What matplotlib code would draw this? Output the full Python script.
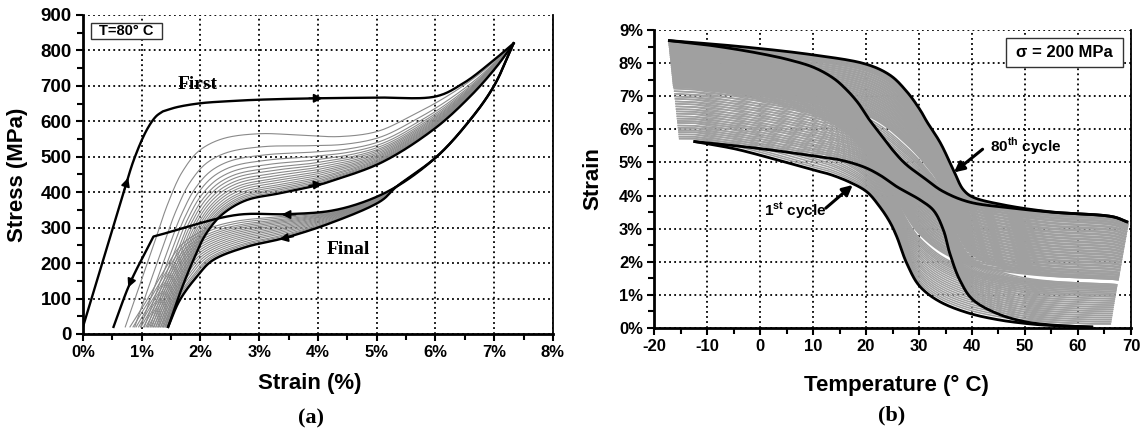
import numpy as np
import matplotlib
matplotlib.use('Agg')
import matplotlib.pyplot as plt
from matplotlib.patches import Rectangle
from matplotlib.ticker import MultipleLocator, FixedLocator

plt.rcParams['font.family'] = ['Liberation Sans', 'DejaVu Sans']
plt.rcParams['mathtext.fontset'] = 'custom'
plt.rcParams['mathtext.rm'] = 'Liberation Sans'
plt.rcParams['mathtext.bf'] = 'Liberation Sans:bold'
plt.rcParams['axes.unicode_minus'] = False

# ---------------- panel (a): stress-strain cycles at 80 C ----------------
first_load_strain = [0.0, 0.69, 0.885, 1.10, 1.25, 1.36, 1.60, 2.00, 2.50, 3.00, 4.00, 5.00, 6.00, 6.47, 6.93, 7.33]
first_load_stress = [20, 399, 500, 580, 615, 628, 640, 651, 657, 661, 665, 667, 670, 707, 764, 820]

first_unload_strain = [7.33, 6.99, 6.59, 6.02, 5.34, 4.77, 4.20, 3.47, 2.62, 1.20, 0.80, 0.52]
first_unload_stress = [820, 698, 604, 500, 416, 372, 347, 338, 336, 275, 143, 20]

final_load_strain = [1.45, 1.65, 1.88, 2.10, 2.39, 2.79, 3.35, 4.00, 4.20, 5.06, 5.96, 6.59, 7.04, 7.33]
final_load_stress = [20, 115, 209, 284, 340, 378, 397, 420, 430, 482, 576, 670, 754, 820]

final_unload_strain = [7.33, 6.99, 6.59, 6.02, 5.34, 5.06, 4.20, 3.41, 2.79, 2.22, 1.94, 1.65, 1.45]
final_unload_stress = [820, 698, 604, 500, 416, 374, 312, 270, 246, 209, 162, 96, 20]

# outermost grey loading / unloading cycles (2nd cycle)
grey_load_out_strain = [0.72, 0.95, 1.20, 1.45, 1.70, 2.00, 2.40, 3.00, 3.70, 4.37, 5.00, 5.62, 6.19, 6.76, 7.33]
grey_load_out_stress = [20, 130, 250, 370, 460, 520, 552, 565, 561, 557, 571, 618, 670, 735, 820]
grey_unload_out_strain = [7.33, 6.99, 6.59, 6.02, 5.34, 4.90, 4.20, 3.41, 2.60, 2.10, 1.70, 1.35, 1.05, 0.80]
grey_unload_out_stress = [820, 698, 604, 500, 416, 378, 345, 332, 318, 295, 255, 170, 85, 20]

# stress level of the grey curves read at ~3.4 % strain
grey_load_plateau = [565, 528, 505, 490, 478, 468, 460, 452, 445, 438, 432, 426, 420, 415, 410, 406, 402]
grey_unload_plateau = [332, 327, 322, 318, 314, 310, 306, 302, 298, 294, 290, 286, 282, 278, 275, 272]

strain_ticks = [0, 1, 2, 3, 4, 5, 6, 7, 8]
strain_ticklabels = ['0%', '1%', '2%', '3%', '4%', '5%', '6%', '7%', '8%']
stress_ticks = [0, 100, 200, 300, 400, 500, 600, 700, 800, 900]

# ---------------- panel (b): strain-temperature cycles at 200 MPa ----------------
c80_heat_T = [-17.1, -3.7, 10.0, 20.0, 24.5, 27.7, 30.2, 31.5, 34.0, 36.5, 38.4, 40.2, 45.9, 54.7, 66.6, 69.2]
c80_heat_s = [8.68, 8.50, 8.25, 7.97, 7.64, 7.14, 6.59, 6.23, 5.60, 4.77, 4.17, 3.95, 3.72, 3.51, 3.36, 3.21]
c80_cool_T = [-17.1, -10.0, -3.8, 1.3, 5.0, 10.0, 13.8, 16.3, 18.5, 20.5, 22.6, 25.0, 27.5, 30.8, 34.6, 39.6, 47.7, 55.0, 66.6, 69.2]
c80_cool_s = [8.68, 8.55, 8.40, 8.25, 8.12, 7.88, 7.55, 7.20, 6.80, 6.32, 5.88, 5.38, 4.95, 4.55, 4.12, 3.80, 3.62, 3.50, 3.36, 3.21]
c1_heat_T = [-12.3, 0.0, 10.0, 15.0, 19.5, 22.6, 25.8, 30.2, 32.7, 34.6, 35.8, 37.7, 40.2, 44.7, 50.0, 56.0, 62.6]
c1_heat_s = [5.63, 5.42, 5.20, 5.08, 4.87, 4.62, 4.27, 3.87, 3.56, 2.96, 2.26, 1.45, 0.85, 0.44, 0.19, 0.08, 0.03]
c1_cool_T = [-12.3, -5.0, 0.0, 5.0, 10.1, 13.2, 17.0, 20.1, 22.6, 24.5, 25.8, 27.7, 30.2, 34.0, 39.6, 45.3, 50.0, 53.5, 62.6]
c1_cool_s = [5.63, 5.42, 5.22, 5.00, 4.77, 4.64, 4.40, 4.12, 3.66, 3.20, 2.76, 1.95, 1.25, 0.79, 0.44, 0.24, 0.14, 0.09, 0.03]

# strain of the grey intermediate cycles at the cold end and at the hot end
grey_cold_strain = [5.72, 5.78, 5.85, 5.92, 5.98, 6.05, 6.12, 6.20, 6.26, 6.33, 6.40, 6.48, 6.55, 6.62,
                    6.70, 6.78, 6.85, 6.93, 7.00, 7.08, 7.16, 7.24, 7.30, 7.36, 7.42, 7.48, 7.54, 7.60,
                    7.66, 7.72, 7.78, 7.84, 7.90, 7.96, 8.02, 8.08, 8.14, 8.20, 8.26, 8.32, 8.38, 8.44,
                    8.50, 8.55, 8.60, 8.64]
grey_hot_strain = [0.12, 0.18, 0.24, 0.30, 0.36, 0.42, 0.48, 0.54, 0.60, 0.66, 0.72, 0.78, 0.84, 0.90,
                   0.95, 1.00, 1.05, 1.10, 1.14, 1.18, 1.22, 1.26, 1.42, 1.48, 1.55, 1.62, 1.70, 1.78,
                   1.86, 1.94, 2.02, 2.10, 2.18, 2.26, 2.34, 2.42, 2.50, 2.58, 2.66, 2.74, 2.82, 2.90,
                   2.98, 3.05, 3.12, 3.18]

temp_ticks = [-20, -10, 0, 10, 20, 30, 40, 50, 60, 70]
strainb_ticks = [0, 1, 2, 3, 4, 5, 6, 7, 8, 9]
strainb_ticklabels = ['0%', '1%', '2%', '3%', '4%', '5%', '6%', '7%', '8%', '9%']


# ---------------- helpers ----------------
def smooth(xs, ys, sx, sy, n=24):
    """Centripetal Catmull-Rom curve through the read points (for drawing only)."""
    P = np.column_stack([np.asarray(xs, float) / sx, np.asarray(ys, float) / sy])
    if len(P) < 3:
        return np.asarray(xs, float), np.asarray(ys, float)
    pts = np.vstack([2 * P[0] - P[1], P, 2 * P[-1] - P[-2]])
    out = [P[0]]
    for i in range(1, len(pts) - 2):
        p0, p1, p2, p3 = pts[i - 1], pts[i], pts[i + 1], pts[i + 2]
        t0 = 0.0
        t1 = t0 + max(np.linalg.norm(p1 - p0), 1e-9) ** 0.5
        t2 = t1 + max(np.linalg.norm(p2 - p1), 1e-9) ** 0.5
        t3 = t2 + max(np.linalg.norm(p3 - p2), 1e-9) ** 0.5
        t = np.linspace(t1, t2, n)[1:, None]
        A1 = (t1 - t) / (t1 - t0) * p0 + (t - t0) / (t1 - t0) * p1
        A2 = (t2 - t) / (t2 - t1) * p1 + (t - t1) / (t2 - t1) * p2
        A3 = (t3 - t) / (t3 - t2) * p2 + (t - t2) / (t3 - t2) * p3
        B1 = (t2 - t) / (t2 - t0) * A1 + (t - t0) / (t2 - t0) * A2
        B2 = (t3 - t) / (t3 - t1) * A2 + (t - t1) / (t3 - t1) * A3
        C = (t2 - t) / (t2 - t1) * B1 + (t - t1) / (t2 - t1) * B2
        out.extend(C)
    out = np.array(out)
    return out[:, 0] * sx, out[:, 1] * sy


def smooth_knee(xs, ys, k, sx, sy):
    """Smooth on both sides of a sharp knee at index k."""
    x1, y1 = smooth(xs[:k + 1], ys[:k + 1], sx, sy)
    x2, y2 = smooth(xs[k:], ys[k:], sx, sy)
    return np.concatenate([x1, x2[1:]]), np.concatenate([y1, y2[1:]])


def template(xs, ys, x0, x1, u):
    xs = np.asarray(xs, float)
    ys = np.asarray(ys, float)
    order = np.argsort(xs)
    un = (xs[order] - x0) / (x1 - x0)
    return np.interp(u, un, ys[order])


# ---------------- figure ----------------
fig = plt.figure(figsize=(11.46, 4.32), dpi=100)
axa = fig.add_axes([0.0724, 0.2269, 0.4101, 0.7384])
axb = fig.add_axes([0.5707, 0.2407, 0.4162, 0.6898])

GRID = dict(color='black', linestyle=(0, (1, 1.8)), linewidth=1.3)


def style_axes(ax, ysize=12):
    ax.set_axisbelow(True)
    ax.grid(True, which='major', **GRID)
    ax.spines['top'].set_visible(False)
    ax.spines['left'].set_linewidth(2.0)
    ax.spines['bottom'].set_linewidth(2.0)
    ax.spines['right'].set_linewidth(1.3)
    ax.tick_params(which='major', direction='out', length=5, width=1.5, labelsize=12, pad=3)
    ax.tick_params(axis='y', which='major', labelsize=ysize)
    ax.tick_params(which='minor', direction='out', length=4, width=1.5)
    ax.tick_params(top=False, right=False, which='both')
    for lab in ax.get_xticklabels() + ax.get_yticklabels():
        lab.set_fontweight('bold')


SA = (1.0, 100.0)   # strain %, stress MPa
# ---- panel (a) ----
u = np.linspace(0, 1, 400)
peak = 7.33
glo_x, glo_y = smooth(grey_load_out_strain, grey_load_out_stress, *SA)
fl_x, fl_y = smooth(final_load_strain, final_load_stress, *SA)
guo_x, guo_y = smooth(grey_unload_out_strain, grey_unload_out_stress, *SA)
fu_x, fu_y = smooth(final_unload_strain, final_unload_stress, *SA)

lo_x0, li_x0 = grey_load_out_strain[0], final_load_strain[0]
p_top, p_bot = grey_load_plateau[0], 397.0
for P in grey_load_plateau:
    w = (p_top - P) / (p_top - p_bot)
    x0 = lo_x0 + w * (li_x0 - lo_x0)
    y = (1 - w) * template(glo_x, glo_y, lo_x0, peak, u) + w * template(fl_x, fl_y, li_x0, peak, u)
    axa.plot(x0 + u * (peak - x0), y, color='#8a8a8a', lw=0.8, zorder=2)

uo_x0, ui_x0 = grey_unload_out_strain[-1], final_unload_strain[-1]
q_top, q_bot = grey_unload_plateau[0], 270.0
for P in grey_unload_plateau:
    w = (q_top - P) / (q_top - q_bot)
    x0 = uo_x0 + w * (ui_x0 - uo_x0)
    y = (1 - w) * template(guo_x, guo_y, uo_x0, peak, u) + w * template(fu_x, fu_y, ui_x0, peak, u)
    axa.plot(x0 + u * (peak - x0), y, color='#8a8a8a', lw=0.8, zorder=2)

curves_a = [smooth_knee(first_load_strain, first_load_stress, 5, *SA),
            smooth_knee(first_unload_strain, first_unload_stress, 9, *SA),
            (fl_x, fl_y), (fu_x, fu_y)]
for xs, ys in curves_a:
    axa.plot(xs, ys, color='black', lw=1.7, zorder=4, solid_joinstyle='round')

AP = dict(arrowstyle='-|>', color='black', lw=1.2, mutation_scale=13, shrinkA=0, shrinkB=0)
for tail, head in [((0.69, 399), (0.77, 441)), ((3.85, 665), (4.08, 665)),
                   ((3.85, 419), (4.08, 423)), ((3.62, 337), (3.38, 337)),
                   ((3.58, 275), (3.34, 267)), ((0.85, 162), (0.77, 131))]:
    axa.annotate('', xy=head, xytext=tail, arrowprops=AP, zorder=5)

axa.text(1.96, 703, 'First', family='Liberation Serif', fontweight='bold', fontsize=14,
         ha='center', va='center', zorder=6)
axa.text(4.52, 239, 'Final', family='Liberation Serif', fontweight='bold', fontsize=14,
         ha='center', va='center', zorder=6)
axa.add_patch(Rectangle((0.131, 831.5), 1.34 - 0.131, 878.4 - 831.5, fc='white', ec='#333333',
                        lw=1.0, zorder=6))
axa.text(0.735, 855, 'T=80° C', fontweight='bold', fontsize=10.5, ha='center', va='center', zorder=7)

axa.set_xlim(0, 8)
axa.set_ylim(0, 900)
axa.xaxis.set_major_locator(FixedLocator(strain_ticks))
axa.set_xticklabels(strain_ticklabels)
axa.yaxis.set_major_locator(FixedLocator(stress_ticks))
axa.xaxis.set_minor_locator(MultipleLocator(0.5))
axa.yaxis.set_minor_locator(MultipleLocator(50))
style_axes(axa, ysize=13.5)
axa.set_xlabel('Strain (%)', fontsize=16, fontweight='bold')
axa.set_ylabel('Stress (MPa)', fontsize=16, fontweight='bold')
axa.xaxis.set_label_coords(0.483, -0.122)
axa.yaxis.set_label_coords(-0.118, 0.5)

# ---- panel (b) ----
SB = (10.0, 1.0)
A_T, A_s = smooth(c80_heat_T, c80_heat_s, *SB)
B_T, B_s = smooth(c80_cool_T, c80_cool_s, *SB)
C_T, C_s = smooth(c1_heat_T, c1_heat_s, *SB)
D_T, D_s = smooth(c1_cool_T, c1_cool_s, *SB)

sA0, sA1 = c80_heat_s[0], c80_heat_s[-1]
sC0, sC1 = c1_heat_s[0], c1_heat_s[-1]


def blend(T, wc, wh, T1, s1, T2, s2):
    t = np.clip((T - 5.0) / 40.0, 0, 1)
    w = wc + (wh - wc) * t * t * (3 - 2 * t)
    return (1 - w) * np.interp(T, T1, s1) + w * np.interp(T, T2, s2)


for sc, sh in zip(grey_cold_strain, grey_hot_strain):
    wc = (sc - sC0) / (sA0 - sC0)
    wh = (sh - sC1) / (sA1 - sC1)
    lw = 1.7 if sc > 7.26 else 1.1
    T = np.linspace(-15.1 - 2.0 * wc, min(66.0 + 3.4 * wh, 69.6), 300)
    axb.plot(T, blend(T, wc, wh, C_T, C_s, A_T, A_s), color='#a0a0a0', lw=lw, zorder=2)
    axb.plot(T, blend(T, wc, wh, D_T, D_s, B_T, B_s), color='#a0a0a0', lw=lw, zorder=2)

for xs, ys in [(A_T, A_s), (B_T, B_s), (C_T, C_s), (D_T, D_s)]:
    axb.plot(xs, ys, color='black', lw=2.0, zorder=4)

AP2 = dict(arrowstyle='-|>', color='black', lw=2.2, mutation_scale=15, shrinkA=0, shrinkB=0)
axb.annotate('', xy=(17.5, 4.32), xytext=(12.4, 3.62), arrowprops=AP2, zorder=5)
axb.annotate('', xy=(36.6, 4.70), xytext=(42.0, 5.40), arrowprops=AP2, zorder=5)
axb.text(6.6, 3.52, r'1$^{\mathbf{st}}$ cycle', fontweight='bold', fontsize=11,
         ha='center', va='center', zorder=6)
axb.text(43.4, 5.48, r'80$^{\mathbf{th}}$ cycle', fontweight='bold', fontsize=11,
         ha='left', va='center', zorder=6)
axb.add_patch(Rectangle((46.36, 7.876), 68.43 - 46.36, 8.752 - 7.876, fc='white', ec='#333333',
                        lw=1.0, zorder=6))
axb.text(57.4, 8.31, 'σ = 200 MPa', fontweight='bold', fontsize=12, ha='center', va='center', zorder=7)

axb.set_xlim(-20, 70)
axb.set_ylim(0, 9)
axb.xaxis.set_major_locator(FixedLocator(temp_ticks))
axb.yaxis.set_major_locator(FixedLocator(strainb_ticks))
axb.set_yticklabels(strainb_ticklabels)
axb.xaxis.set_minor_locator(MultipleLocator(5))
axb.yaxis.set_minor_locator(MultipleLocator(0.5))
style_axes(axb)
axb.set_xlabel('Temperature (° C)', fontsize=16, fontweight='bold')
axb.set_ylabel('Strain', fontsize=16, fontweight='bold')
axb.xaxis.set_label_coords(0.509, -0.158)
axb.yaxis.set_label_coords(-0.107, 0.5)

fig.text(310.8 / 1146, 1 - 418.3 / 432, '(a)', family='Liberation Serif', fontweight='bold',
         fontsize=16, ha='center', va='center')
fig.text(891.7 / 1146, 1 - 415.0 / 432, '(b)', family='Liberation Serif', fontweight='bold',
         fontsize=16, ha='center', va='center')

fig.savefig('out.png', dpi=100)
